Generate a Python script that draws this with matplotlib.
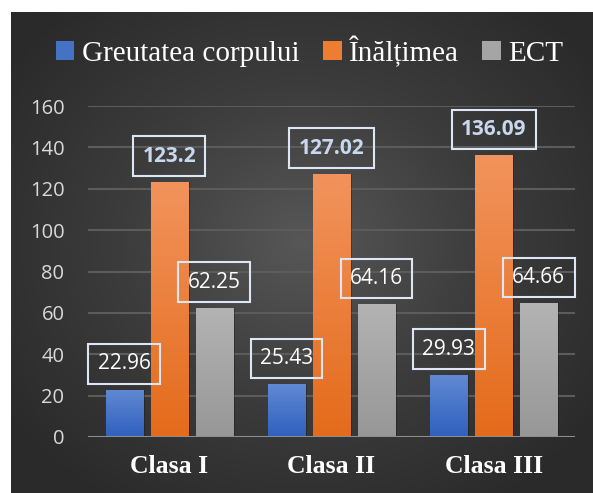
import numpy as np
import matplotlib
matplotlib.use("Agg")
import matplotlib.pyplot as plt
from matplotlib.colors import LinearSegmentedColormap
from matplotlib.patches import Patch

# ---- data ----
categories = ["Clasa I", "Clasa II", "Clasa III"]
series_names = ["Greutatea corpului", "Înălțimea", "ECT"]
greutatea = [22.96, 25.43, 29.93]
inaltimea = [123.2, 127.02, 136.09]
ect = [62.25, 64.16, 64.66]
yticks = [0, 20, 40, 60, 80, 100, 120, 140, 160]

series = [greutatea, inaltimea, ect]
top_colors = ["#6189d3", "#f2935c", "#b3b3b3"]
bot_colors = ["#2f60be", "#e46b1b", "#979797"]
legend_colors = ["#4472c4", "#ed7d31", "#a5a5a5"]

W, H = 593, 493
fig = plt.figure(figsize=(W / 100, H / 100), dpi=100, facecolor="white")

# background with radial gradient
bg = fig.add_axes([11 / W, 0, 1 - 11 / W, 1 - 12 / H])
bg.set_axis_off()
yy, xx = np.mgrid[0:200, 0:240]
cx, cy = 120, 95
r = np.sqrt(((xx - cx) / 150) ** 2 + ((yy - cy) / 130) ** 2)
r = np.clip(r, 0, 1)
bg_cmap = LinearSegmentedColormap.from_list("bg", ["#575757", "#3c3c3c", "#2a2a2a"])
bg.imshow(r, cmap=bg_cmap, aspect="auto", extent=[0, 1, 0, 1], origin="upper")
bg.set_xlim(0, 1)
bg.set_ylim(0, 1)

ax = fig.add_axes([88 / W, (H - 437) / H, (575 - 88) / W, (437 - 106) / H])
ax.patch.set_alpha(0)
for s in ax.spines.values():
    s.set_visible(False)

x = np.arange(len(categories))
bw = 0.228
offsets = [-0.277, 0.0, 0.277]
label_dy = 12.5

for i, (vals, off) in enumerate(zip(series, offsets)):
    cmap = LinearSegmentedColormap.from_list("g%d" % i, [bot_colors[i], top_colors[i]])
    # shadow
    ax.bar(x + off + 0.012, vals, bw, color="black", alpha=0.25, zorder=2, linewidth=0)
    bars = ax.bar(x + off, vals, bw, color=top_colors[i], zorder=3, linewidth=0)
    for b, v in zip(bars, vals):
        grad = np.linspace(0, 1, 100).reshape(-1, 1)
        im = ax.imshow(grad, cmap=cmap, aspect="auto", origin="lower",
                       extent=[b.get_x(), b.get_x() + bw, 0, v], zorder=4)
        im.set_clip_path(b)
        if i == 1:
            ax.text(b.get_x() + bw / 2, v + label_dy, f"{v:g}", ha="center", va="center",
                    fontsize=15, fontweight="bold", color="#c9d8ee", family="Open Sans",
                    zorder=6,
                    bbox=dict(boxstyle="square,pad=0.45", fc="none", ec="#dce6f5", lw=1.5))
        else:
            ax.text(b.get_x() + bw / 2, v + label_dy, f"{v:g}", ha="center", va="center",
                    fontsize=15, color="white", family="Open Sans", zorder=6,
                    bbox=dict(boxstyle="square,pad=0.45", fc="none", ec="#dce6f5", lw=1.5))

ax.set_xlim(-0.5, 2.5)
ax.set_ylim(0, 160)
ax.set_yticks(yticks)
ax.set_yticklabels([str(t) for t in yticks], fontsize=14.5, color="#d9d9d9", family="Open Sans")
ax.yaxis.grid(True, color="#5c5c5c", lw=1.5, zorder=1)
ax.set_axisbelow(True)
ax.tick_params(axis="y", length=0, pad=17)
ax.tick_params(axis="x", length=0, pad=13)
ax.set_xticks(x)
ax.set_xticklabels(categories, fontsize=18.5, fontweight="bold", color="white",
                   family="Liberation Serif")
ax.axhline(0, color="#8e8e8e", lw=2.2, zorder=5)

handles = [Patch(facecolor=c, edgecolor="none") for c in legend_colors]
leg = fig.legend(handles, series_names, loc="center", bbox_to_anchor=(0.522, 0.896),
                 ncol=3, frameon=False, handlelength=0.65, handleheight=0.65,
                 handletextpad=0.25, columnspacing=0.8,
                 prop={"family": "Liberation Serif", "size": 21})
for t in leg.get_texts():
    t.set_color("white")

fig.savefig("out.png", dpi=100, facecolor="white")
